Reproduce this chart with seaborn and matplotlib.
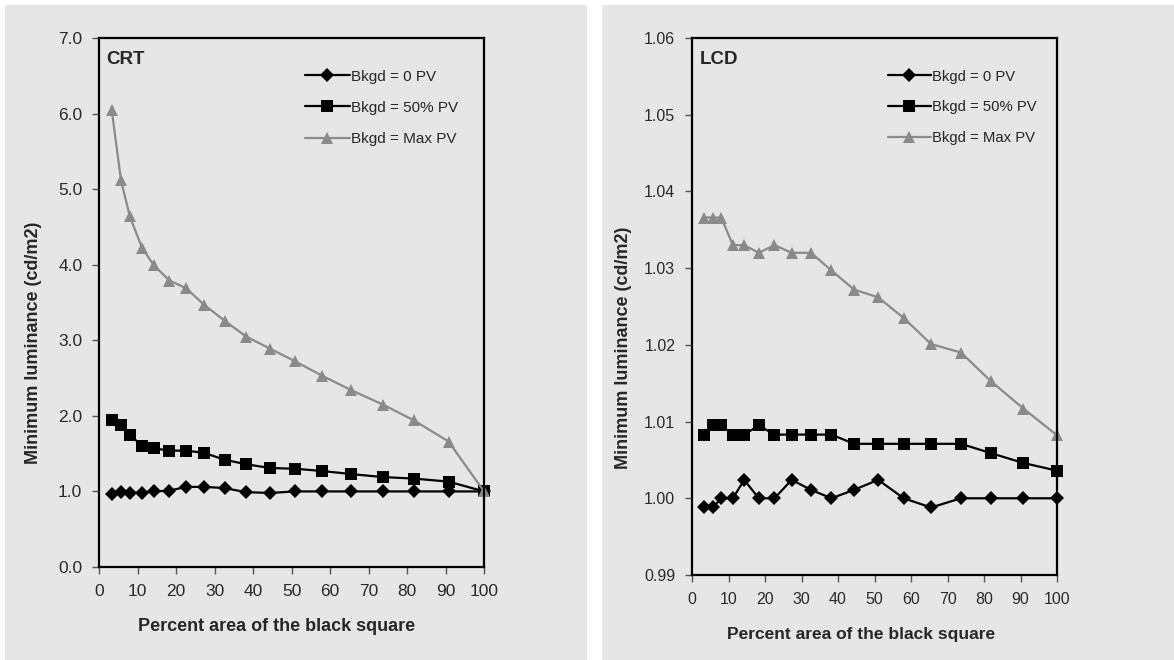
import numpy as np
import pandas as pd
import matplotlib
matplotlib.use("Agg")
import matplotlib.pyplot as plt
import seaborn as sns
from matplotlib.patches import Rectangle

# percent area of the black square (same sampling for both displays)
pct_area = [3.3, 5.7, 8.0, 11.2, 14.3, 18.3, 22.6, 27.3, 32.6, 38.2,
            44.4, 51.0, 58.0, 65.5, 73.7, 81.8, 90.8, 100.0]

# CRT minimum luminance (cd/m2)
crt_bk0 = [0.96, 0.99, 0.98, 0.98, 1.00, 1.01, 1.06, 1.06, 1.045, 0.99,
           0.98, 1.00, 1.00, 1.00, 1.00, 1.00, 1.00, 1.00]
crt_bk50 = [1.94, 1.88, 1.75, 1.60, 1.57, 1.54, 1.54, 1.51, 1.42, 1.36,
            1.31, 1.30, 1.27, 1.23, 1.19, 1.17, 1.13, 1.00]
crt_bkmax = [6.05, 5.12, 4.64, 4.22, 3.99, 3.79, 3.69, 3.47, 3.26, 3.05,
             2.89, 2.72, 2.53, 2.34, 2.15, 1.94, 1.66, 1.00]

# LCD minimum luminance (cd/m2)
lcd_bk0 = [0.9988, 0.9988, 1.0000, 1.0000, 1.0024, 1.0000, 1.0000, 1.0024, 1.0011, 1.0000,
           1.0011, 1.0024, 1.0000, 0.9988, 1.0000, 1.0000, 1.0000, 1.0000]
lcd_bk50 = [1.0083, 1.0095, 1.0095, 1.0083, 1.0083, 1.0095, 1.0083, 1.0083, 1.0083, 1.0083,
            1.0071, 1.0071, 1.0071, 1.0071, 1.0071, 1.0059, 1.0046, 1.0036]
lcd_bkmax = [1.0366, 1.0366, 1.0366, 1.0330, 1.0330, 1.0320, 1.0330, 1.0320, 1.0320, 1.0297,
             1.0272, 1.0262, 1.0235, 1.0201, 1.0190, 1.0153, 1.0117, 1.0082]

labels = ["Bkgd = 0 PV", "Bkgd = 50% PV", "Bkgd = Max PV"]

sns.set_style("white")
plt.rcParams['font.family'] = ['Liberation Sans', 'DejaVu Sans']

bg = "#e6e6e6"
fig = plt.figure(figsize=(11.74, 6.6), dpi=100)
W, H = 1174, 660

# grey panel backgrounds
fig.patches.append(Rectangle((5 / W, 0), 582 / W, 655 / H, transform=fig.transFigure,
                             facecolor=bg, edgecolor="none", zorder=-10))
fig.patches.append(Rectangle((602 / W, 0), 572 / W, 655 / H, transform=fig.transFigure,
                             facecolor=bg, edgecolor="none", zorder=-10))

ax1 = fig.add_axes([99 / W, 93 / H, 385 / W, 529 / H])
ax2 = fig.add_axes([692 / W, 85 / H, 365 / W, 537 / H])

styles = [dict(color="black", marker="D", markersize=7),
          dict(color="black", marker="s", markersize=8),
          dict(color="#8a8a8a", marker="^", markersize=9)]


def draw(ax, series, name, ylim, yticks, fmt, xlab_pos, ylab_pos, tick_fs, xlab_fs, leg_fs):
    ax.set_facecolor(bg)
    for vals, lab, st in zip(series, labels, styles):
        df = pd.DataFrame({"x": pct_area, "y": vals})
        sns.lineplot(data=df, x="x", y="y", ax=ax, label=lab, linewidth=1.6,
                     markeredgewidth=0, clip_on=False, **st)
    ax.set_xlim(0, 100)
    ax.set_ylim(*ylim)
    ax.set_xticks(np.arange(0, 101, 10))
    ax.set_yticks(yticks)
    ax.set_yticklabels([fmt % v for v in yticks])
    for sp in ax.spines.values():
        sp.set_visible(True)
        sp.set_color("black")
        sp.set_linewidth(1.6)
    ax.tick_params(axis="both", direction="out", length=5, width=1, color="#555555",
                   labelsize=tick_fs, labelcolor="#2a2a2a", pad=7,
                   bottom=True, left=True)
    ax.set_xlabel("Percent area of the black square", fontsize=xlab_fs,
                  fontweight="bold")
    ax.set_ylabel("Minimum luminance (cd/m2)", fontsize=13,
                  fontweight="bold")
    ax.xaxis.set_label_coords(*xlab_pos)
    ax.yaxis.set_label_coords(*ylab_pos)
    ax.text(0.02, 0.975, name, transform=ax.transAxes, fontsize=13.5,
            fontweight="bold", va="top", ha="left")
    ax.legend(loc="upper left", bbox_to_anchor=(0.50, 0.966), frameon=False,
              fontsize=leg_fs, handlelength=2.9, handletextpad=0.1,
              labelspacing=1.12)


draw(ax1, [crt_bk0, crt_bk50, crt_bkmax], "CRT", (0, 7),
     np.arange(0, 7.01, 1.0), "%.1f", (0.462, -0.0964), (-0.149, 0.423),
     12.5, 13, 11)
draw(ax2, [lcd_bk0, lcd_bk50, lcd_bkmax], "LCD", (0.99, 1.06),
     np.arange(0.99, 1.0601, 0.01), "%.2f", (0.463, -0.0968), (-0.165, 0.423),
     11.5, 12.5, 10.7)

fig.savefig("out.png", dpi=100, facecolor="white")
